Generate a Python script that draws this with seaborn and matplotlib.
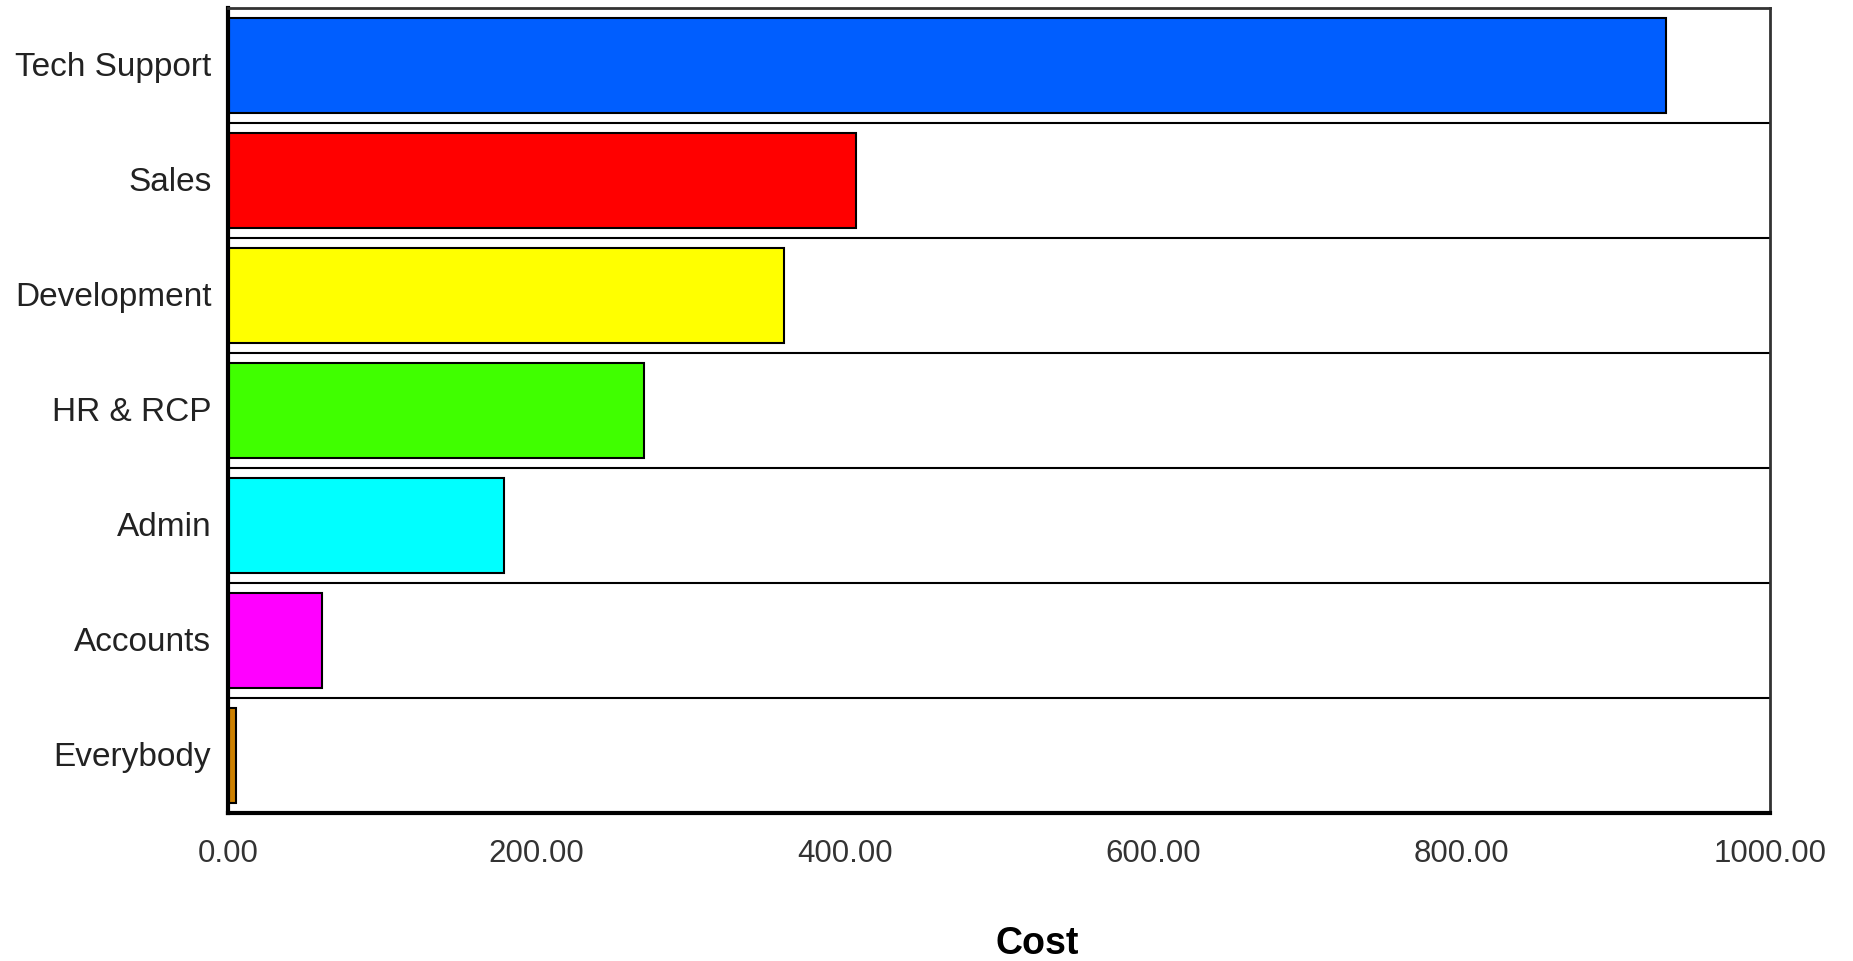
import matplotlib
matplotlib.use("Agg")
import matplotlib.pyplot as plt
import matplotlib.transforms as mtransforms
import seaborn as sns
import pandas as pd
from matplotlib.ticker import FormatStrFormatter

categories = ["Tech Support", "Sales", "Development", "HR & RCP", "Admin", "Accounts", "Everybody"]
costs = [932.5, 407.0, 360.3, 269.8, 179.0, 61.0, 5.0]
bar_colors = ["#005EFF", "#FF0000", "#FFFF00", "#40FF00", "#00FFFF", "#FF00FF", "#CC8000"]
x_ticks = [0, 200, 400, 600, 800, 1000]

sns.set_theme(style="white")
plt.rcParams["font.family"] = ["Liberation Sans", "DejaVu Sans"]

df = pd.DataFrame({"Department": categories, "Cost": costs})

fig = plt.figure(figsize=(18.53, 9.61), dpi=100)
ax = fig.add_axes([228 / 1853, 1 - 813 / 961, (1770 - 228) / 1853, (813 - 8) / 961])

sns.barplot(data=df, x="Cost", y="Department", hue="Department",
            palette=dict(zip(categories, bar_colors)), order=categories,
            orient="h", width=0.82, edgecolor="black", linewidth=1.5,
            legend=False, ax=ax, saturation=1)

ax.set_xlim(0, 1000)
ax.set_ylim(len(categories) - 0.5, -0.5)
ax.set_xticks(x_ticks)
ax.xaxis.set_major_formatter(FormatStrFormatter("%.2f"))
for i in range(1, len(categories)):
    ax.axhline(i - 0.5, color="black", linewidth=1.5, zorder=0.5)

ax.set_xlabel("")
ax.set_ylabel("")
ax.tick_params(axis="x", length=0, pad=19, labelsize=22.5, labelcolor="#333333")
ax.tick_params(axis="y", length=0, pad=12, labelsize=24, labelcolor="#222222")

offset = mtransforms.ScaledTranslation(0, 1.5 / 100, fig.dpi_scale_trans)
for lbl in ax.get_yticklabels():
    lbl.set_transform(lbl.get_transform() + offset)

for side in ["top", "right"]:
    ax.spines[side].set_visible(True)
    ax.spines[side].set_color("#333333")
    ax.spines[side].set_linewidth(2)
for side in ["left", "bottom"]:
    ax.spines[side].set_color("black")
    ax.spines[side].set_linewidth(3)

fig.text(1037 / 1853, 1 - 944 / 961, "Cost", ha="center", va="center",
         fontsize=27, fontweight="bold", color="black")

fig.savefig("out.png", dpi=100)
